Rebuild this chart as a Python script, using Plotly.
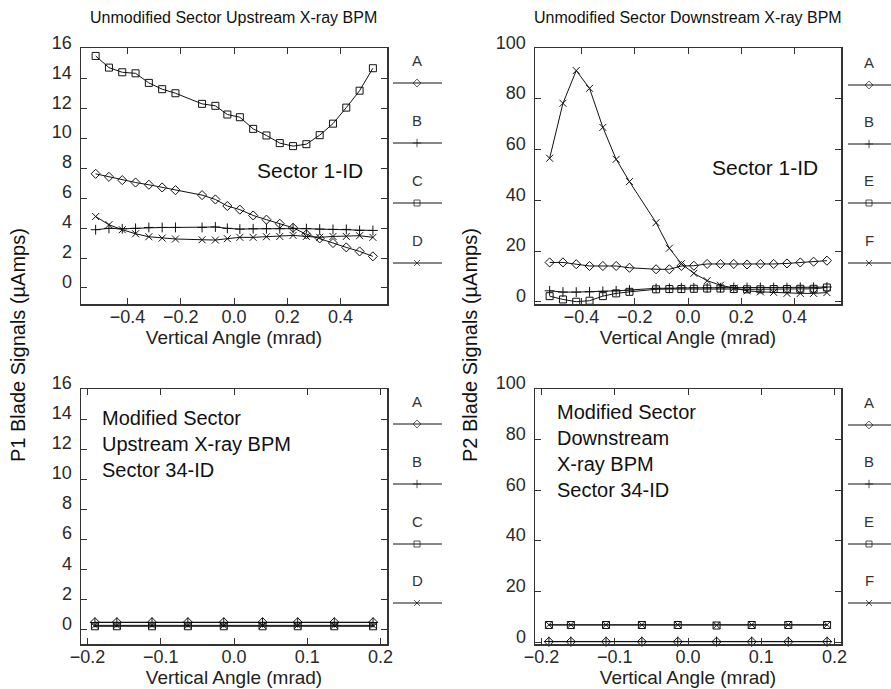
import plotly.graph_objects as go

# ---------------- data ----------------
x_unmod = [-0.52, -0.47, -0.42, -0.37, -0.32, -0.27, -0.22, -0.12, -0.07, -0.025, 0.022,
           0.072, 0.122, 0.172, 0.222, 0.272, 0.322, 0.372, 0.422, 0.472, 0.522]

up_A = [7.62, 7.42, 7.20, 7.04, 6.89, 6.71, 6.53, 6.20, 5.91, 5.47, 5.23,
        4.84, 4.56, 4.29, 4.02, 3.58, 3.31, 3.00, 2.71, 2.44, 2.11]
up_B = [3.89, 3.98, 3.95, 3.98, 4.04, 4.04, 4.04, 4.04, 4.07, 3.98, 3.93,
        3.95, 3.96, 3.96, 3.98, 3.96, 3.93, 3.91, 3.91, 3.84, 3.84]
up_C = [15.49, 14.71, 14.40, 14.33, 13.69, 13.27, 13.00, 12.29, 12.16, 11.58, 11.40,
        10.62, 10.18, 9.67, 9.47, 9.60, 10.20, 10.97, 12.04, 13.17, 14.67]
up_D = [4.77, 4.22, 3.89, 3.62, 3.42, 3.33, 3.27, 3.22, 3.20, 3.29, 3.38,
        3.38, 3.42, 3.44, 3.51, 3.44, 3.38, 3.44, 3.44, 3.49, 3.38]

dn_A = [15.5, 15.5, 14.8, 14.1, 14.1, 14.1, 13.4, 12.8, 12.8, 14.1, 14.2,
        14.9, 14.9, 14.9, 14.7, 14.9, 14.9, 15.1, 15.5, 15.8, 16.2]
dn_B = [4.3, 3.8, 3.8, 3.9, 4.1, 4.3, 4.6, 5.3, 5.3, 5.5, 5.5,
        5.5, 5.5, 5.6, 5.6, 5.6, 5.6, 5.6, 5.7, 5.7, 5.8]
dn_E = [2.2, 0.9, 0.0, 0.4, 2.2, 3.3, 3.9, 4.9, 5.0, 5.0, 5.1,
        5.2, 5.2, 5.0, 4.9, 4.9, 5.0, 5.0, 5.1, 5.1, 5.6]
dn_F = [56.6, 78.3, 91.2, 84.2, 68.8, 56.2, 47.4, 31.2, 21.1, 15.0, 11.2,
        8.3, 6.5, 5.3, 4.3, 3.9, 3.7, 3.3, 3.3, 3.3, 3.6]

x_mod = [-0.19, -0.16, -0.112, -0.063, -0.014, 0.039, 0.087, 0.137, 0.19]
mup_A = [0.47, 0.47, 0.47, 0.47, 0.47, 0.47, 0.47, 0.47, 0.47]
mup_B = [0.45, 0.45, 0.45, 0.45, 0.45, 0.45, 0.45, 0.45, 0.45]
mup_C = [0.20, 0.20, 0.20, 0.20, 0.20, 0.20, 0.20, 0.20, 0.20]
mup_D = [0.26, 0.26, 0.26, 0.26, 0.26, 0.26, 0.26, 0.26, 0.26]

mdn_A = [0.2, 0.2, 0.2, 0.2, 0.2, 0.2, 0.2, 0.2, 0.2]
mdn_B = [0.3, 0.3, 0.3, 0.3, 0.3, 0.3, 0.3, 0.3, 0.3]
mdn_E = [6.8, 6.8, 6.8, 6.8, 6.8, 6.6, 6.8, 6.8, 6.8]
mdn_F = [6.9, 6.9, 6.9, 6.9, 6.9, 6.7, 6.9, 6.9, 6.9]

labels_up = ["A", "B", "C", "D"]
labels_dn = ["A", "B", "E", "F"]
symbols = ["diamond-open", "cross-thin-open", "square-open", "x-thin-open"]

# ---------------- figure ----------------
W, H = 891, 689
FONT = "Liberation Sans, Arial, sans-serif"
INK = "#111111"

fig = go.Figure()

panels = [
    ("x", "y", x_unmod, [up_A, up_B, up_C, up_D]),
    ("x2", "y2", x_unmod, [dn_A, dn_B, dn_E, dn_F]),
    ("x3", "y3", x_mod, [mup_A, mup_B, mup_C, mup_D]),
    ("x4", "y4", x_mod, [mdn_A, mdn_B, mdn_E, mdn_F]),
]

for xa, ya, xs, series in panels:
    for vals, sym in zip(series, symbols):
        fig.add_trace(go.Scatter(
            x=xs, y=vals, xaxis=xa, yaxis=ya, mode="lines+markers",
            line=dict(color=INK, width=1),
            marker=dict(symbol=sym, size=7, color=INK, line=dict(color=INK, width=1)),
            showlegend=False, hoverinfo="skip", cliponaxis=False))

# custom legends (letter above a short line carrying the marker), drawn on a pixel overlay axis
leg_cols = [
    (393, 442, 417, [83, 143, 203, 263], labels_up),
    (848, 891, 869, [85, 144, 203, 263], labels_dn),
    (393, 442, 417, [424, 484, 544, 603], labels_up),
    (848, 891, 869, [425, 484, 544, 603], labels_dn),
]
annotations = []
for x0, x1, xm, ys, labs in leg_cols:
    for yy, lab, sym in zip(ys, labs, symbols):
        fig.add_trace(go.Scatter(
            x=[x0, xm, x1], y=[yy, yy, yy], xaxis="x5", yaxis="y5",
            mode="lines+markers",
            line=dict(color=INK, width=1),
            marker=dict(symbol=sym, size=[0, 6, 0], color=INK, line=dict(color=INK, width=1)),
            showlegend=False, hoverinfo="skip"))
        annotations.append(dict(x=xm, y=yy - 23, xref="x5", yref="y5", text=lab,
                                showarrow=False, font=dict(family=FONT, size=15, color="#333")))

def px_x(p):
    return p / W

def px_y(p):
    return 1 - p / H

axis_common = dict(showline=True, linecolor="#333", linewidth=1.5, mirror="ticks",
                   ticks="inside", ticklen=6, tickwidth=1, tickcolor="#333",
                   showgrid=False, zeroline=False, automargin=False,
                   tickfont=dict(family=FONT, size=18, color="#2a2a2a"))
yaxis_common = dict(axis_common, ticklabelshift=-6, ticklabelstandoff=4)
xaxis_common = dict(axis_common, ticklabelstandoff=-4)

xdom_l = [px_x(81), px_x(387)]
xdom_r = [px_x(535), px_x(841)]
ydom_t = [px_y(304), px_y(48.3)]
ydom_b = [px_y(644), px_y(389)]

xt_title = dict(text="Vertical Angle (mrad)", font=dict(family=FONT, size=19, color="#222"), standoff=0)

fig.update_layout(
    width=W, height=H, margin=dict(l=0, r=0, t=0, b=0, autoexpand=False),
    paper_bgcolor="white", plot_bgcolor="rgba(0,0,0,0)",
    xaxis=dict(xaxis_common, domain=xdom_l, anchor="y", range=[-0.575, 0.575],
               tickvals=[-0.4, -0.2, 0.0, 0.2, 0.4], tickformat=".1f", title=xt_title),
    yaxis=dict(yaxis_common, domain=ydom_t, anchor="x", range=[-1.07, 16],
               tickvals=[0, 2, 4, 6, 8, 10, 12, 14, 16]),
    xaxis2=dict(xaxis_common, domain=xdom_r, anchor="y2", range=[-0.575, 0.575],
                tickvals=[-0.4, -0.2, 0.0, 0.2, 0.4], tickformat=".1f", title=xt_title),
    yaxis2=dict(yaxis_common, domain=ydom_t, anchor="x2", range=[-0.9, 100],
                tickvals=[0, 20, 40, 60, 80, 100]),
    xaxis3=dict(xaxis_common, domain=xdom_l, anchor="y3", range=[-0.209, 0.209],
                tickvals=[-0.2, -0.1, 0.0, 0.1, 0.2], tickformat=".1f", title=xt_title),
    yaxis3=dict(yaxis_common, domain=ydom_b, anchor="x3", range=[-0.98, 16],
                tickvals=[0, 2, 4, 6, 8, 10, 12, 14, 16]),
    xaxis4=dict(xaxis_common, domain=xdom_r, anchor="y4", range=[-0.209, 0.209],
                tickvals=[-0.2, -0.1, 0.0, 0.1, 0.2], tickformat=".1f", title=xt_title),
    yaxis4=dict(yaxis_common, domain=ydom_b, anchor="x4", range=[-0.7, 100],
                tickvals=[0, 20, 40, 60, 80, 100]),
    xaxis5=dict(domain=[0, 1], range=[0, W], visible=False, anchor="y5", fixedrange=True),
    yaxis5=dict(domain=[0, 1], range=[H, 0], visible=False, anchor="x5", fixedrange=True),
)

text_font = dict(family=FONT, color="#111")
annotations += [
    dict(x=233, y=17, xref="x5", yref="y5", text="Unmodified Sector Upstream X-ray BPM",
         showarrow=False, font=dict(text_font, size=16)),
    dict(x=688, y=17, xref="x5", yref="y5", text="Unmodified Sector Downstream X-ray BPM",
         showarrow=False, font=dict(text_font, size=16)),
    dict(x=310, y=170, xref="x5", yref="y5", text="Sector 1-ID",
         showarrow=False, font=dict(text_font, size=21)),
    dict(x=765, y=167, xref="x5", yref="y5", text="Sector 1-ID",
         showarrow=False, font=dict(text_font, size=21)),
    dict(x=100, y=444, xref="x5", yref="y5", xanchor="left", align="left",
         text="Modified Sector<br>Upstream X-ray BPM<br>Sector 34-ID",
         showarrow=False, font=dict(text_font, size=20)),
    dict(x=555, y=451, xref="x5", yref="y5", xanchor="left", align="left",
         text="Modified Sector<br>Downstream<br>X-ray BPM<br>Sector 34-ID",
         showarrow=False, font=dict(text_font, size=20)),
    dict(x=18, y=345, xref="x5", yref="y5", text="P1 Blade Signals (µAmps)", textangle=-90,
         showarrow=False, font=dict(text_font, size=20)),
    dict(x=470, y=345, xref="x5", yref="y5", text="P2 Blade Signals (µAmps)", textangle=-90,
         showarrow=False, font=dict(text_font, size=20)),
]
fig.update_layout(annotations=annotations)

fig.write_html("out.html",
               config={"displayModeBar": False, "staticPlot": True},
               post_script="document.body.style.margin='0';document.body.style.overflow='hidden';")
